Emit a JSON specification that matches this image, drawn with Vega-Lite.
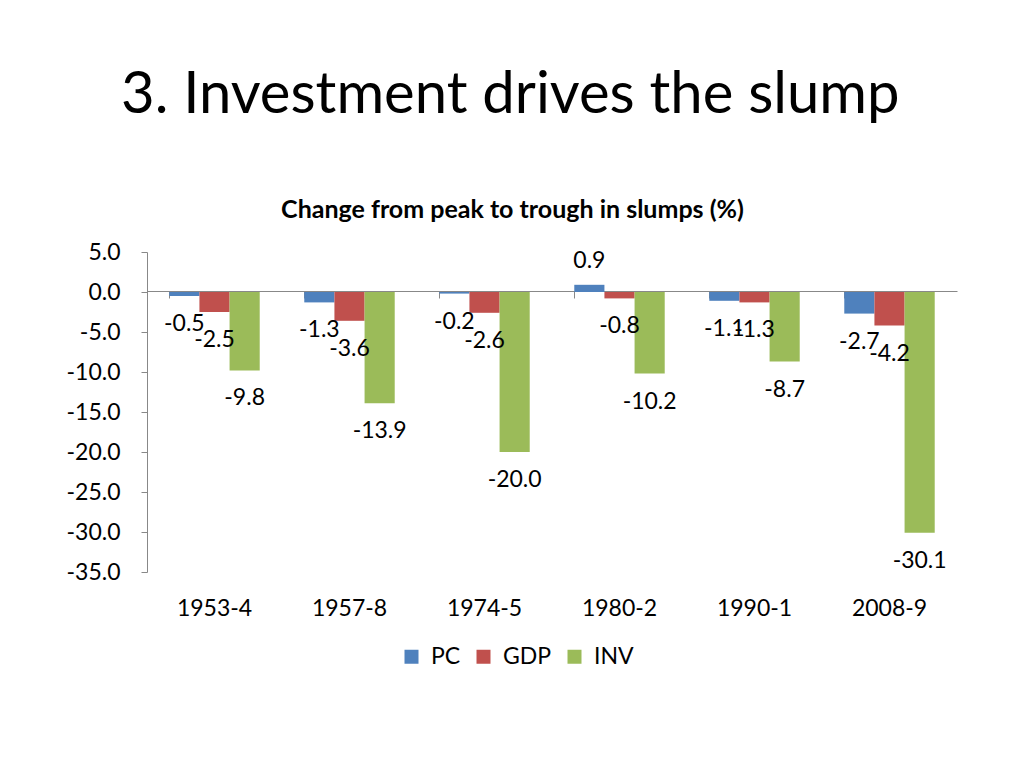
{
  "$schema": "https://vega.github.io/schema/vega-lite/v6.json",
  "width": 810,
  "height": 320,
  "autosize": "none",
  "padding": {"left": 147, "top": 252, "right": 67, "bottom": 196},
  "background": "white",
  "config": {
    "font": "Lato",
    "view": {"stroke": null},
    "axis": {"grid": false},
    "axisY": {"labelOverlap": false},
    "locale": {
      "number": {"decimal": ".", "thousands": ",", "grouping": [3], "currency": ["$", ""], "minus": "-"}
    }
  },
  "title": {
    "text": "3. Investment drives the slump",
    "anchor": "start",
    "frame": "group",
    "font": "Lato",
    "fontSize": 58,
    "fontWeight": "normal",
    "color": "black",
    "dx": -26,
    "offset": 72
  },
  "data": {
    "values": [
      {"period": "1953-4", "series": "PC", "value": -0.5},
      {"period": "1953-4", "series": "GDP", "value": -2.5},
      {"period": "1953-4", "series": "INV", "value": -9.8},
      {"period": "1957-8", "series": "PC", "value": -1.3},
      {"period": "1957-8", "series": "GDP", "value": -3.6},
      {"period": "1957-8", "series": "INV", "value": -13.9},
      {"period": "1974-5", "series": "PC", "value": -0.2},
      {"period": "1974-5", "series": "GDP", "value": -2.6},
      {"period": "1974-5", "series": "INV", "value": -20.0},
      {"period": "1980-2", "series": "PC", "value": 0.9},
      {"period": "1980-2", "series": "GDP", "value": -0.8},
      {"period": "1980-2", "series": "INV", "value": -10.2},
      {"period": "1990-1", "series": "PC", "value": -1.1},
      {"period": "1990-1", "series": "GDP", "value": -1.3},
      {"period": "1990-1", "series": "INV", "value": -8.7},
      {"period": "2008-9", "series": "PC", "value": -2.7},
      {"period": "2008-9", "series": "GDP", "value": -4.2},
      {"period": "2008-9", "series": "INV", "value": -30.1}
    ]
  },
  "encoding": {
    "x": {
      "field": "period",
      "type": "nominal",
      "sort": null,
      "scale": {"paddingInner": 0.33, "paddingOuter": 0.165}
    },
    "xOffset": {
      "field": "series",
      "type": "nominal",
      "sort": ["PC", "GDP", "INV"],
      "scale": {"paddingInner": 0, "paddingOuter": 0}
    },
    "y": {
      "field": "value",
      "type": "quantitative",
      "scale": {"domain": [-35, 5], "nice": false, "zero": false},
      "axis": {
        "title": null,
        "values": [5, 0, -5, -10, -15, -20, -25, -30, -35],
        "format": ".1f",
        "labelOverlap": false,
        "labelFontSize": 23,
        "labelColor": "black",
        "labelFont": "Lato",
        "labelPadding": 21,
        "tickSize": 6,
        "tickColor": "#888888",
        "domainColor": "#888888",
        "grid": false
      }
    }
  },
  "resolve": {"axis": {"x": "independent"}},
  "layer": [
    {
      "mark": {"type": "bar"},
      "encoding": {
        "x": {
          "field": "period",
          "type": "nominal",
          "sort": null,
          "axis": {
            "orient": "bottom",
            "title": null,
            "domain": false,
            "ticks": false,
            "labelAngle": 0,
            "labelFontSize": 23,
            "labelColor": "black",
            "labelPadding": 25,
            "labelFont": "Lato"
          }
        },
        "color": {
          "field": "series",
          "type": "nominal",
          "sort": ["PC", "GDP", "INV"],
          "scale": {"domain": ["PC", "GDP", "INV"], "range": ["#4F81BD", "#C0504D", "#9BBB59"]},
          "legend": {
            "orient": "none",
            "legendX": 253,
            "legendY": 393,
            "direction": "horizontal",
            "title": null,
            "symbolType": "square",
            "symbolSize": 196,
            "symbolStrokeWidth": 0,
            "labelFontSize": 23,
            "labelFont": "Lato",
            "labelColor": "black",
            "labelOffset": 8,
            "columnPadding": 11
          }
        }
      }
    },
    {
      "transform": [{"filter": "datum.value < 0"}],
      "mark": {"type": "text", "fontSize": 23, "font": "Lato", "color": "black", "baseline": "middle", "dy": 28},
      "encoding": {
        "x": {
          "field": "period",
          "type": "nominal",
          "sort": null,
          "axis": {
            "orient": "bottom",
            "offset": -281,
            "title": null,
            "labels": false,
            "domain": true,
            "ticks": true,
            "bandPosition": 0,
            "tickSize": 7,
            "tickColor": "#888888",
            "domainColor": "#888888"
          }
        },
        "text": {"field": "value", "type": "quantitative", "format": ".1f"}
      }
    },
    {
      "transform": [{"filter": "datum.value >= 0"}],
      "mark": {"type": "text", "fontSize": 23, "font": "Lato", "color": "black", "baseline": "middle", "dy": -24},
      "encoding": {
        "x": {
          "field": "period",
          "type": "nominal",
          "sort": null,
          "axis": {
            "orient": "top",
            "title": "Change from peak to trough in slumps (%)",
            "titleFont": "Lato",
            "titleFontSize": 25,
            "titleFontWeight": "bold",
            "titleColor": "black",
            "titleX": 365,
            "titleAlign": "center",
            "titlePadding": 30,
            "labels": false,
            "domain": false,
            "ticks": false
          }
        },
        "text": {"field": "value", "type": "quantitative", "format": ".1f"}
      }
    }
  ]
}
